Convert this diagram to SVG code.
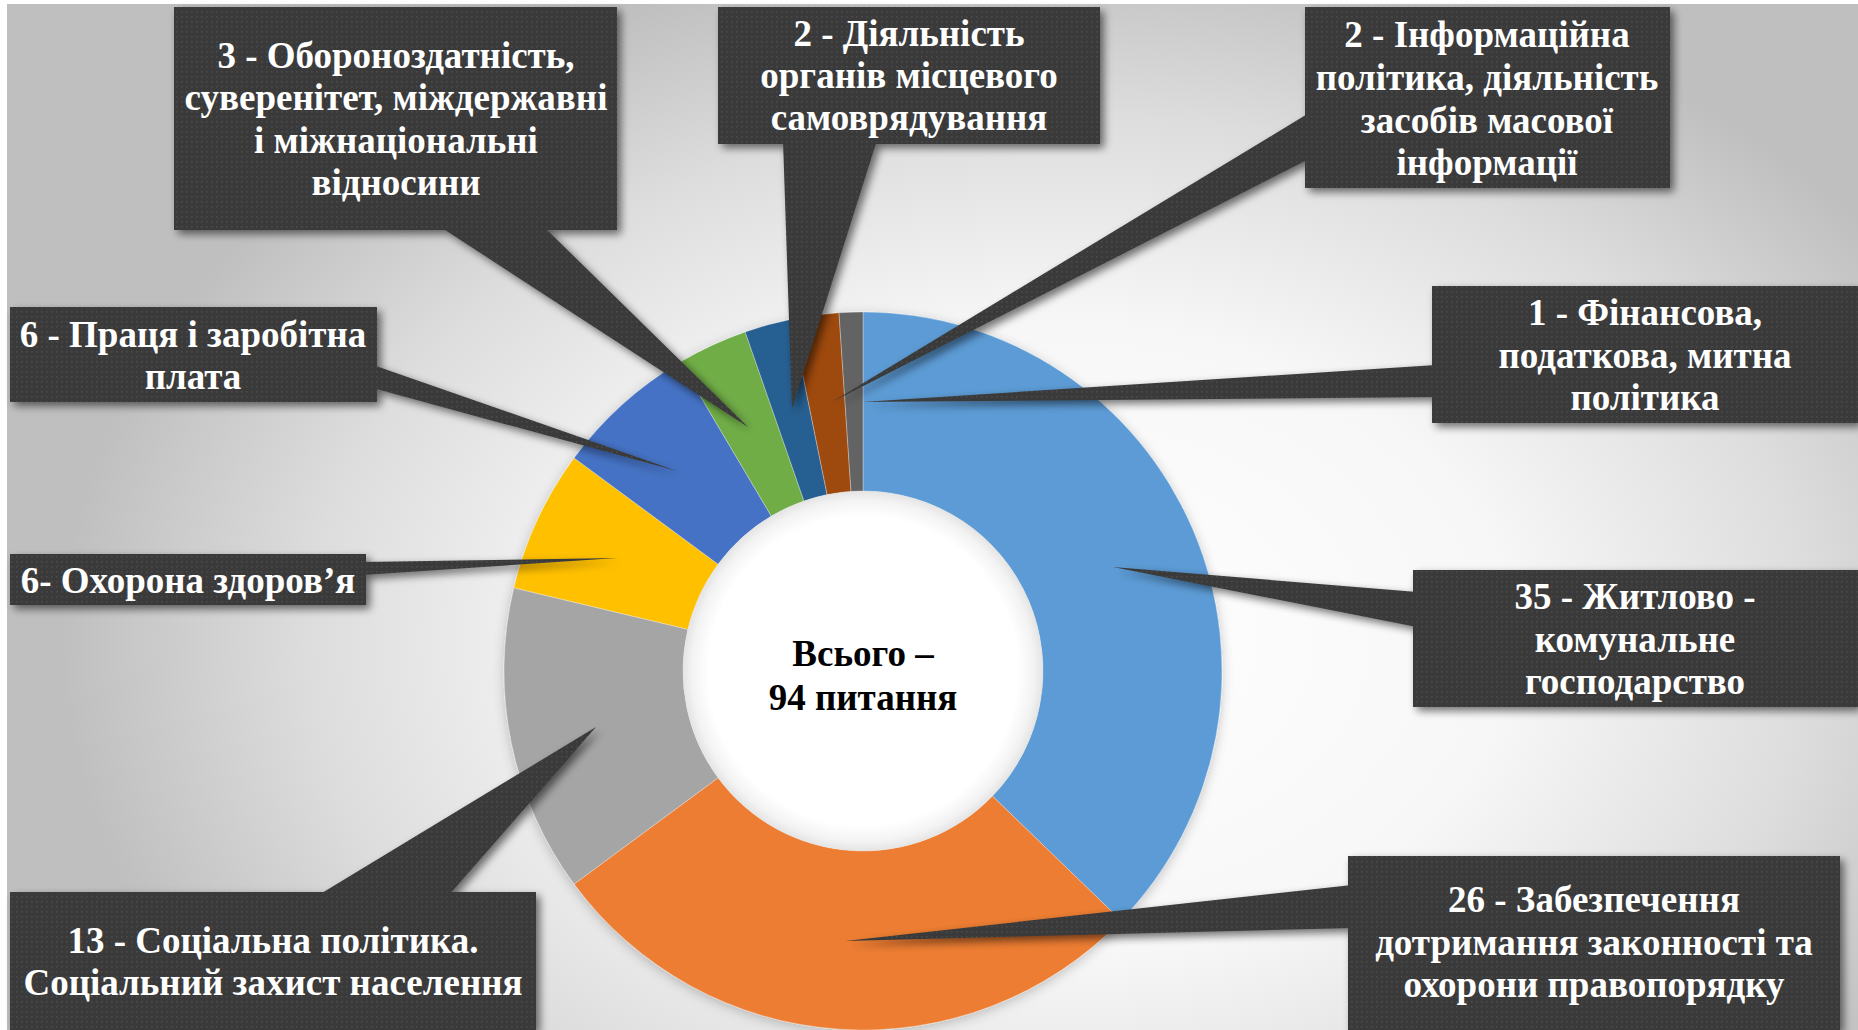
<svg xmlns="http://www.w3.org/2000/svg" xmlns:xlink="http://www.w3.org/1999/xlink" width="1858" height="1030" viewBox="0 0 1858 1030">
<defs>
<style>
.lbl{font-family:"Liberation Serif","Times New Roman",serif;font-weight:bold;font-size:37px;fill:#ffffff;text-anchor:middle}
.ctr{font-family:"Liberation Serif","Times New Roman",serif;font-weight:bold;font-size:37px;fill:#000000;text-anchor:middle}
.box{fill:url(#dots)}
.wedge{fill:url(#dots)}
.sl{stroke:#ffffff;stroke-opacity:0.3;stroke-width:1}
</style>
<radialGradient id="bg" gradientUnits="userSpaceOnUse" cx="1060" cy="640" r="1000" gradientTransform="translate(1060 640) scale(1 0.7) translate(-1060 -640)">
<stop offset="0" stop-color="#ffffff"/>
<stop offset="0.45" stop-color="#f7f7f7"/>
<stop offset="0.75" stop-color="#dddddd"/>
<stop offset="1" stop-color="#bfbfbf"/>
</radialGradient>
<radialGradient id="hole" gradientUnits="userSpaceOnUse" cx="863" cy="671" r="180">
<stop offset="0" stop-color="#ffffff"/>
<stop offset="0.86" stop-color="#ffffff"/>
<stop offset="0.95" stop-color="#f3f3f3"/>
<stop offset="1" stop-color="#e4e4e4"/>
</radialGradient>
<pattern id="dots" width="5" height="5" patternUnits="userSpaceOnUse">
<rect width="5" height="5" fill="#3a3a3a"/>
<rect x="1" y="1" width="1.6" height="1.6" fill="#4b4b4b"/>
</pattern>
<filter id="sh" x="-20%" y="-20%" width="140%" height="140%">
<feGaussianBlur in="SourceAlpha" stdDeviation="4"/>
<feOffset dx="4" dy="4"/>
<feComponentTransfer><feFuncA type="linear" slope="0.55"/></feComponentTransfer>
</filter>
<filter id="dsh" x="-10%" y="-10%" width="120%" height="120%">
<feDropShadow dx="0" dy="3" stdDeviation="6" flood-color="#000000" flood-opacity="0.22"/>
</filter>
</defs>

<rect x="0" y="0" width="1858" height="1030" fill="#ffffff"/>
<rect x="7" y="4" width="1851" height="1026" fill="url(#bg)"/>

<g id="donut" filter="url(#dsh)">
<path id="s-35" class="sl" fill="#5B9BD5" d="M863,312 A359,359 0 0 1 1121.1,920.5 L992.4,796.1 A180,180 0 0 0 863,491 Z"/>
<path id="s-26" class="sl" fill="#ED7D31" d="M1121.1,920.5 A359,359 0 0 1 574.1,884.1 L718.1,777.8 A180,180 0 0 0 992.4,796.1 Z"/>
<path id="s-13" class="sl" fill="#A5A5A5" d="M574.1,884.1 A359,359 0 0 1 513.8,587.8 L687.9,629.3 A180,180 0 0 0 718.1,777.8 Z"/>
<path id="s-6a" class="sl" fill="#FFC000" d="M513.8,587.8 A359,359 0 0 1 574.1,457.9 L718.1,564.2 A180,180 0 0 0 687.9,629.3 Z"/>
<path id="s-6b" class="sl" fill="#4472C4" d="M574.1,457.9 A359,359 0 0 1 680.1,362.1 L771.3,516.1 A180,180 0 0 0 718.1,564.2 Z"/>
<path id="s-3" class="sl" fill="#70AD47" d="M680.1,362.1 A359,359 0 0 1 745.2,331.9 L804.0,501.0 A180,180 0 0 0 771.3,516.1 Z"/>
<path id="s-2a" class="sl" fill="#255E91" d="M745.2,331.9 A359,359 0 0 1 791.5,319.2 L827.1,494.6 A180,180 0 0 0 804.0,501.0 Z"/>
<path id="s-2b" class="sl" fill="#9E480E" d="M791.5,319.2 A359,359 0 0 1 839.0,312.8 L851.0,491.4 A180,180 0 0 0 827.1,494.6 Z"/>
<path id="s-1" class="sl" fill="#636363" d="M839.0,312.8 A359,359 0 0 1 863,312 L863,491 A180,180 0 0 0 851.0,491.4 Z"/>
</g>
<circle id="hole-c" cx="863" cy="671" r="180" fill="url(#hole)"/>

<g id="center-label">
<text class="ctr" x="863" y="666">Всього –</text>
<text class="ctr" x="863" y="710">94 питання</text>
</g>

<g id="shadows" filter="url(#sh)">
<use xlink:href="#w1"/><use xlink:href="#w2"/><use xlink:href="#w3"/><use xlink:href="#w4"/><use xlink:href="#w5"/><use xlink:href="#w6"/><use xlink:href="#w7"/><use xlink:href="#w8"/><use xlink:href="#w9"/>
<use xlink:href="#b1"/><use xlink:href="#b2"/><use xlink:href="#b3"/><use xlink:href="#b4"/><use xlink:href="#b5"/><use xlink:href="#b6"/><use xlink:href="#b7"/><use xlink:href="#b8"/><use xlink:href="#b9"/>
</g>

<g id="connectors">
<polygon id="w1" class="wedge" points="439,226 543,226 748,427"/>
<polygon id="w2" class="wedge" points="783,140 877,140 792,409"/>
<polygon id="w3" class="wedge" points="1309,113 1309,159 832,402"/>
<polygon id="w4" class="wedge" points="1436,365 1436,397 862,402"/>
<polygon id="w5" class="wedge" points="1417,592 1417,627 1113,567"/>
<polygon id="w6" class="wedge" points="1352,885 1352,928 845,941"/>
<polygon id="w7" class="wedge" points="373,365 373,388 677,471"/>
<polygon id="w8" class="wedge" points="362,562 362,575 617,558"/>
<polygon id="w9" class="wedge" points="317,896 448,896 596,727"/>
</g>

<g id="n-defense">
<rect id="b1" class="box" x="174" y="7" width="443" height="223"/>
<text class="lbl" x="396" y="68">3 - Обороноздатність,</text>
<text class="lbl" x="396" y="110">суверенітет, міждержавні</text>
<text class="lbl" x="396" y="153">і міжнаціональні</text>
<text class="lbl" x="396" y="195">відносини</text>
</g>

<g id="n-local">
<rect id="b2" class="box" x="718" y="7" width="382" height="137"/>
<text class="lbl" x="909" y="46">2 - Діяльність</text>
<text class="lbl" x="909" y="88">органів місцевого</text>
<text class="lbl" x="909" y="130">самоврядування</text>
</g>

<g id="n-info">
<rect id="b3" class="box" x="1305" y="7" width="365" height="181"/>
<text class="lbl" x="1487" y="47">2 - Інформаційна</text>
<text class="lbl" x="1487" y="90">політика, діяльність</text>
<text class="lbl" x="1487" y="133">засобів масової</text>
<text class="lbl" x="1487" y="175">інформації</text>
</g>

<g id="n-finance">
<rect id="b4" class="box" x="1432" y="286" width="426" height="137"/>
<text class="lbl" x="1645" y="325">1 - Фінансова,</text>
<text class="lbl" x="1645" y="368">податкова, митна</text>
<text class="lbl" x="1645" y="410">політика</text>
</g>

<g id="n-housing">
<rect id="b5" class="box" x="1413" y="570" width="445" height="137"/>
<text class="lbl" x="1635" y="609">35 - Житлово -</text>
<text class="lbl" x="1635" y="652">комунальне</text>
<text class="lbl" x="1635" y="694">господарство</text>
</g>

<g id="n-law">
<rect id="b6" class="box" x="1348" y="856" width="492" height="174"/>
<text class="lbl" x="1594" y="912">26 - Забезпечення</text>
<text class="lbl" x="1594" y="955">дотримання законності та</text>
<text class="lbl" x="1594" y="997">охорони правопорядку</text>
</g>

<g id="n-labour">
<rect id="b7" class="box" x="10" y="307" width="367" height="95"/>
<text class="lbl" x="193" y="347">6 - Праця і заробітна</text>
<text class="lbl" x="193" y="389">плата</text>
</g>

<g id="n-health">
<rect id="b8" class="box" x="10" y="554" width="356" height="51"/>
<text class="lbl" x="188" y="593">6- Охорона здоров’я</text>
</g>

<g id="n-social">
<rect id="b9" class="box" x="10" y="892" width="526" height="138"/>
<text class="lbl" x="273" y="953">13 - Соціальна політика.</text>
<text class="lbl" x="273" y="995">Соціальний захист населення</text>
</g>
</svg>
